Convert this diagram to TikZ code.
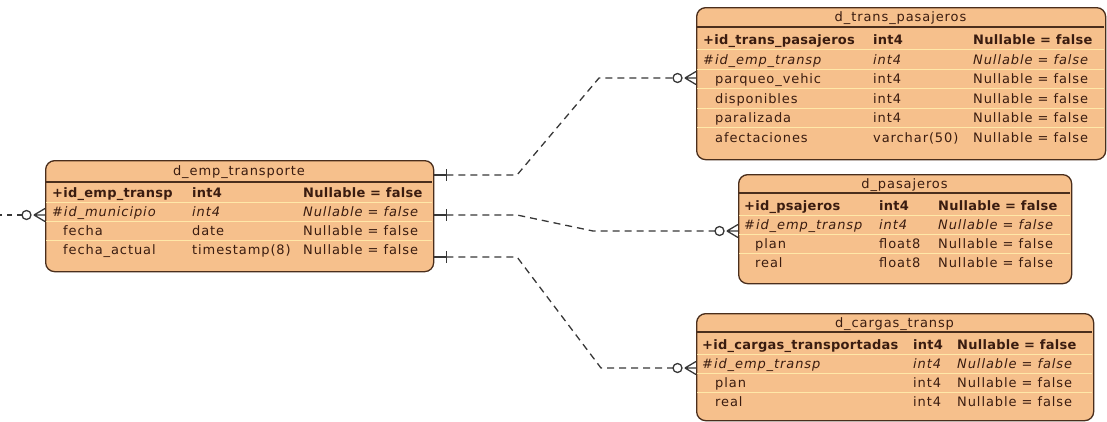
\documentclass[tikz,border=0pt]{standalone}
\usepackage{fontspec}
\newfontfamily\erfont[LetterSpace=7, BoldFeatures={LetterSpace=2}]{DejaVu Sans}
\usetikzlibrary{calc}

\definecolor{entityfill}{HTML}{F6C08C}
\definecolor{entityline}{HTML}{4A2E1C}
\definecolor{entitytext}{HTML}{3A1C10}
\definecolor{rowline}{HTML}{FFE8A8}
\definecolor{linkline}{HTML}{383838}

\tikzset{
  entity/.style={draw=entityline, fill=entityfill, line width=1.3pt,
    rounded corners=9pt, inner sep=0pt, anchor=north west},
  headsep/.style={draw=entityline, line width=1.1pt},
  rowsep/.style={draw=rowline, line width=1pt},
  attr/.style={anchor=base west, inner sep=0pt, text=entitytext,
    font=\erfont\fontsize{13}{15}\selectfont},
  title/.style={attr, anchor=base},
  pkey/.style={attr, font=\erfont\bfseries\fontsize{13}{15}\selectfont},
  fkey/.style={attr, font=\erfont\itshape\fontsize{13}{15}\selectfont},
  link/.style={draw=linkline, line width=1.3pt, dash pattern=on 7pt off 5pt},
  linkend/.style={draw=linkline, line width=1.3pt},
}

\begin{document}
\begin{tikzpicture}[x=1pt, y=-1pt]
\useasboundingbox (0,0) rectangle (1107,421);

% ---------------- d_emp_transporte ----------------
\node[entity, minimum width=388pt, minimum height=111pt] (emp) at (45,160) {};
\node[title] (emp-title) at (239,175) {d\_emp\_transporte};
\draw[headsep] (45.6,182) -- (432.4,182);
\foreach \y in {202,221,240} \draw[rowsep] (46,\y) -- (432,\y);
\foreach \st/\xx/\nm/\tp [count=\i from 0] in {
    pkey/52/+id\_emp\_transp/int4,
    fkey/52/\#id\_municipio/int4,
    attr/63/fecha/date,
    attr/63/fecha\_actual/timestamp(8)} {
  \node[\st] (emp-n\i) at (\xx,{197+19*\i}) {\nm};
  \node[\st] (emp-t\i) at (192,{197+19*\i}) {\tp};
  \node[\st] (emp-u\i) at (303,{197+19*\i}) {Nullable = false};
}

% ---------------- d_trans_pasajeros ----------------
\node[entity, minimum width=409pt, minimum height=152pt] (tpas) at (696,7) {};
\node[title] (tpas-title) at (900.5,21) {d\_trans\_pasajeros};
\draw[headsep] (696.6,27) -- (1104.4,27);
\foreach \y in {49.5,69,88.5,108,127.5} \draw[rowsep] (697,\y) -- (1104,\y);
\foreach \st/\xx/\nm/\tp [count=\i from 0] in {
    pkey/703/+id\_trans\_pasajeros/int4,
    fkey/703/\#id\_emp\_transp/int4,
    attr/715/parqueo\_vehic/int4,
    attr/715/disponibles/int4,
    attr/715/paralizada/int4,
    attr/715/afectaciones/varchar(50)} {
  \node[\st] (tpas-n\i) at (\xx,{44.5+19.5*\i}) {\nm};
  \node[\st] (tpas-t\i) at (873,{44.5+19.5*\i}) {\tp};
  \node[\st] (tpas-u\i) at (973,{44.5+19.5*\i}) {Nullable = false};
}

% ---------------- d_pasajeros ----------------
\node[entity, minimum width=333pt, minimum height=109pt] (pas) at (738,174) {};
\node[title] (pas-title) at (904.5,188) {d\_pasajeros};
\draw[headsep] (738.6,193) -- (1070.4,193);
\foreach \y in {215.5,234.5,253.5} \draw[rowsep] (739,\y) -- (1070,\y);
\foreach \st/\xx/\nm/\tp [count=\i from 0] in {
    pkey/744/+id\_psajeros/int4,
    fkey/744/\#id\_emp\_transp/int4,
    attr/755/plan/float8,
    attr/755/real/float8} {
  \node[\st] (pas-n\i) at (\xx,{210.5+19*\i}) {\nm};
  \node[\st] (pas-t\i) at (879,{210.5+19*\i}) {\tp};
  \node[\st] (pas-u\i) at (938,{210.5+19*\i}) {Nullable = false};
}

% ---------------- d_cargas_transp ----------------
\node[entity, minimum width=397pt, minimum height=107pt] (carg) at (696,313) {};
\node[title] (carg-title) at (894.5,327) {d\_cargas\_transp};
\draw[headsep] (696.6,332) -- (1092.4,332);
\foreach \y in {354.5,373.5,392.5} \draw[rowsep] (697,\y) -- (1092,\y);
\foreach \st/\xx/\nm/\tp [count=\i from 0] in {
    pkey/702/+id\_cargas\_transportadas/int4,
    fkey/702/\#id\_emp\_transp/int4,
    attr/715/plan/int4,
    attr/715/real/int4} {
  \node[\st] (carg-n\i) at (\xx,{349.5+19*\i}) {\nm};
  \node[\st] (carg-t\i) at (913,{349.5+19*\i}) {\tp};
  \node[\st] (carg-u\i) at (957,{349.5+19*\i}) {Nullable = false};
}

% ---------------- relationship end points ----------------
% "one" ends on d_emp_transporte
\coordinate (e1) at ($(emp.north east)+(0,15)$);
\coordinate (e2) at ($(emp.north east)+(0,55)$);
\coordinate (e3) at ($(emp.north east)+(0,97)$);
% "many" ends on the dependent tables
\coordinate (m1) at ($(tpas.north west)+(0,71)$);
\coordinate (m2) at ($(pas.north west)+(0,57)$);
\coordinate (m3) at ($(carg.north west)+(0,55)$);
% bends of the dashed links
\coordinate (b1a) at (517,175);  \coordinate (b1b) at (599,78);
\coordinate (b2a) at (517,215);  \coordinate (b2b) at (593,231);
\coordinate (b3a) at (517,257);  \coordinate (b3b) at (601,368);
% incoming link of d_emp_transporte
\coordinate (m0) at ($(emp.north west)+(0,55)$);
\coordinate (off) at (0,215);

% one-end: short stub and bar
\foreach \c in {e1,e2,e3} {
  \draw[linkend] (\c) -- ($(\c)+(12,0)$);
  \draw[linkend] ($(\c)+(12,-6)$) -- ($(\c)+(12,6)$);
}
% many-end: crow's foot with circle
\foreach \c in {m0,m1,m2,m3} {
  \draw[linkend] ($(\c)+(-11,0)$) -- ($(\c)+(0,-6.5)$)
                 ($(\c)+(-11,0)$) -- (\c)
                 ($(\c)+(-11,0)$) -- ($(\c)+(0,6.5)$);
  \draw[linkend] ($(\c)+(-18.5,0)$) circle[radius=4.5pt];
}

% dashed links
\draw[link] ($(e1)+(12,0)$) -- (b1a) -- (b1b) -- ($(m1)+(-23,0)$);
\draw[link] ($(e2)+(12,0)$) -- (b2a) -- (b2b) -- ($(m2)+(-23,0)$);
\draw[link] ($(e3)+(12,0)$) -- (b3a) -- (b3b) -- ($(m3)+(-23,0)$);
\draw[link, dash pattern=on 5pt off 5pt] ($(m0)+(-23,0)$) -- (off);
\end{tikzpicture}
\end{document}
